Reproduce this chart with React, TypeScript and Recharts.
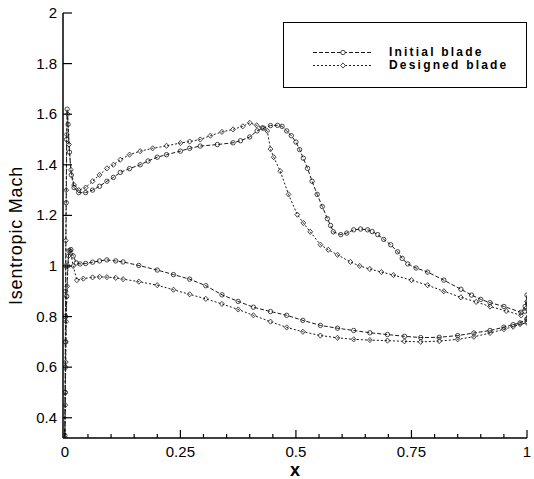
import { LineChart, Line, XAxis, YAxis, Legend, Label } from 'recharts';

// Designed blade: loop from trailing edge along suction side to LE, then pressure side back
const designedX = [
  1.0, 1.0, 0.995, 0.987, 0.955, 0.92, 0.89, 0.857, 0.82, 0.785, 0.75, 0.711, 0.685, 0.66, 0.638,
  0.618, 0.59, 0.57, 0.553, 0.531, 0.516, 0.503, 0.484, 0.466, 0.452, 0.445, 0.438, 0.427, 0.415,
  0.4, 0.385, 0.364, 0.34, 0.315, 0.293, 0.27, 0.25, 0.22, 0.19, 0.163, 0.14, 0.12, 0.105, 0.091,
  0.075, 0.06, 0.045, 0.03, 0.02, 0.013, 0.009, 0.006, 0.004, 0.003, 0.002, 0.0015, 0.001, 0.0005, 0,
  0.001, 0.002, 0.003, 0.005, 0.008, 0.012, 0.018, 0.026, 0.04, 0.06, 0.075, 0.091, 0.11, 0.126,
  0.16, 0.2, 0.235, 0.27, 0.305, 0.34, 0.375, 0.408, 0.445, 0.48, 0.515, 0.553, 0.59, 0.625, 0.66,
  0.698, 0.735, 0.77, 0.81, 0.85, 0.885, 0.92, 0.95, 0.97, 0.985, 1.0,
];
const designedM = [
  0.78, 0.86, 0.82, 0.805, 0.822, 0.84, 0.858, 0.876, 0.9, 0.924, 0.944, 0.964, 0.976, 0.988, 1.0,
  1.016, 1.044, 1.064, 1.084, 1.135, 1.17, 1.203, 1.283, 1.375, 1.43, 1.462, 1.534, 1.546, 1.556,
  1.566, 1.552, 1.54, 1.53, 1.515, 1.5, 1.492, 1.486, 1.475, 1.465, 1.454, 1.44, 1.42, 1.4, 1.386,
  1.36, 1.335, 1.31, 1.3, 1.32, 1.38, 1.48, 1.6, 1.52, 1.3, 1.1, 0.9, 0.7, 0.5, 0.32,
  0.45, 0.62, 0.78, 0.92, 1.04, 1.06, 1.0, 0.944, 0.95, 0.955, 0.957, 0.956, 0.953, 0.948,
  0.938, 0.924, 0.906, 0.888, 0.87, 0.85, 0.828, 0.805, 0.78, 0.757, 0.74, 0.725, 0.716, 0.71, 0.707,
  0.705, 0.702, 0.7, 0.703, 0.71, 0.72, 0.735, 0.75, 0.76, 0.77, 0.775,
];

// Initial blade
const initialX = [
  1.0, 1.0, 0.996, 0.987, 0.95, 0.92, 0.9, 0.88, 0.857, 0.82, 0.785, 0.76, 0.742, 0.73, 0.72, 0.705,
  0.69, 0.677, 0.665, 0.655, 0.64, 0.625, 0.61, 0.597, 0.581, 0.575, 0.568, 0.557, 0.546, 0.535,
  0.525, 0.516, 0.508, 0.5, 0.49, 0.48, 0.47, 0.46, 0.445, 0.43, 0.416, 0.4, 0.38, 0.364, 0.33,
  0.293, 0.27, 0.25, 0.22, 0.2, 0.18, 0.163, 0.14, 0.12, 0.105, 0.091, 0.075, 0.06, 0.045, 0.03,
  0.02, 0.014, 0.01, 0.007, 0.005, 0.004, 0.003, 0.002, 0.0015, 0.001, 0,
  0.001, 0.002, 0.004, 0.006, 0.009, 0.013, 0.018, 0.025, 0.033, 0.045, 0.06, 0.075, 0.091, 0.11,
  0.126, 0.16, 0.2, 0.235, 0.27, 0.305, 0.34, 0.375, 0.408, 0.445, 0.48, 0.515, 0.553, 0.59, 0.625,
  0.66, 0.698, 0.735, 0.77, 0.81, 0.85, 0.885, 0.92, 0.95, 0.97, 0.985, 1.0,
];
const initialM = [
  0.79, 0.885, 0.84, 0.817, 0.84, 0.855, 0.868, 0.885, 0.908, 0.944, 0.976, 0.992, 1.008, 1.03, 1.056,
  1.084, 1.105, 1.124, 1.136, 1.143, 1.146, 1.143, 1.13, 1.124, 1.135, 1.16, 1.187, 1.235, 1.283,
  1.335, 1.386, 1.426, 1.46, 1.49, 1.515, 1.534, 1.552, 1.556, 1.555, 1.545, 1.534, 1.51, 1.495,
  1.487, 1.48, 1.474, 1.465, 1.454, 1.44, 1.43, 1.415, 1.4, 1.385, 1.37, 1.35, 1.335, 1.315, 1.3,
  1.29, 1.29, 1.31, 1.36, 1.45, 1.56, 1.62, 1.5, 1.25, 1.0, 0.8, 0.6, 0.33,
  0.5, 0.7, 0.88, 1.0, 1.06, 1.065, 1.04, 1.012, 1.008, 1.01, 1.015, 1.02, 1.024, 1.02,
  1.016, 1.002, 0.984, 0.966, 0.948, 0.922, 0.886, 0.86, 0.837, 0.82, 0.805, 0.785, 0.765, 0.754,
  0.745, 0.736, 0.729, 0.722, 0.717, 0.718, 0.725, 0.735, 0.745, 0.758, 0.768, 0.775, 0.79,
];

const xTicks = [
  0, 0.05, 0.1, 0.15, 0.2, 0.25, 0.3, 0.35, 0.4, 0.45, 0.5, 0.55, 0.6, 0.65, 0.7, 0.75, 0.8, 0.85,
  0.9, 0.95, 1,
];
const xMajor = [0, 0.25, 0.5, 0.75, 1];
const yTicks = [0.4, 0.6, 0.8, 1, 1.2, 1.4, 1.6, 1.8, 2];
const legendOrder = ['Initial blade', 'Designed blade'];

const designed = designedX.map((x, i) => ({ x, m: designedM[i] }));
const initial = initialX.map((x, i) => ({ x, m: initialM[i] }));

const FONT = '"Liberation Sans", Arial, sans-serif';
const INK = '#1a1a1a';

const XTick = (props: any) => {
  const { x, y, payload } = props;
  const v = payload.value;
  const major = xMajor.some((m) => Math.abs(m - v) < 1e-6);
  return (
    <g>
      <line x1={x} x2={x} y1={y} y2={y - (major ? 8 : 4)} stroke="#000" strokeWidth={1.2} />
      {major && (
        <text x={x} y={y + 19} textAnchor="middle" fontSize={15} fontFamily={FONT} fill="#000">
          {String(v)}
        </text>
      )}
    </g>
  );
};

const YTick = (props: any) => {
  const { x, y, payload } = props;
  return (
    <g>
      <line x1={x} x2={x + 9} y1={y} y2={y} stroke="#000" strokeWidth={1.2} />
      <text x={x - 6} y={y + 5} textAnchor="end" fontSize={15} fontFamily={FONT} fill="#000">
        {String(payload.value)}
      </text>
    </g>
  );
};

const circleDot = (p: any) => (
  <circle key={`c${p.index}`} cx={p.cx} cy={p.cy} r={2.2} fill="#fff" fillOpacity={0} stroke={INK} strokeWidth={0.8} />
);

const diamondDot = (p: any) => (
  <path
    key={`d${p.index}`}
    d={`M${p.cx},${p.cy - 2.6}L${p.cx + 2.4},${p.cy}L${p.cx},${p.cy + 2.6}L${p.cx - 2.4},${p.cy}Z`}
    fill="none"
    stroke={INK}
    strokeWidth={0.8}
  />
);

const renderLegend = (props: any) => {
  const items = [...(props.payload || [])].sort(
    (a: any, b: any) => legendOrder.indexOf(a.value) - legendOrder.indexOf(b.value)
  );
  return (
    <div
      style={{
        width: 244,
        height: 66,
        border: '1.5px solid #000',
        boxSizing: 'border-box',
        position: 'relative',
        background: '#fff',
        fontFamily: FONT,
      }}
    >
      {items.map((e: any, i: number) => (
        <div
          key={e.value}
          style={{ position: 'absolute', left: 0, top: 23 + i * 13, height: 13, display: 'flex', alignItems: 'center' }}
        >
          <svg width={104} height={13} style={{ display: 'block' }}>
            <line
              x1={29}
              x2={87}
              y1={6.5}
              y2={6.5}
              stroke={INK}
              strokeWidth={1}
              strokeDasharray={i === 0 ? '4 2' : '2 2'}
            />
            {i === 0 ? (
              <circle cx={59} cy={6.5} r={2.2} fill="#fff" stroke={INK} strokeWidth={0.8} />
            ) : (
              <path d="M59,3.9L61.4,6.5L59,9.1L56.6,6.5Z" fill="#fff" stroke={INK} strokeWidth={0.8} />
            )}
          </svg>
          <span style={{ fontSize: 12, fontWeight: 'bold', letterSpacing: 2.2, lineHeight: '13px', color: '#000', marginLeft: 1 }}>
            {e.value}
          </span>
        </div>
      ))}
    </div>
  );
};

export default function App() {
  return (
    <div style={{ position: 'absolute', left: 0, top: 0, width: 534, height: 479, background: '#fff' }}>
      <LineChart width={534} height={479} margin={{ top: 13, right: 7, bottom: 16, left: 0 }}>
        <XAxis
          dataKey="x"
          type="number"
          domain={[-0.004, 1]}
          allowDataOverflow
          ticks={xTicks}
          interval={0}
          height={25}
          tickSize={0}
          tickMargin={0}
          tickLine={false}
          tick={<XTick />}
          axisLine={{ stroke: '#000', strokeWidth: 1.5 }}
        >
          <Label
            content={(p: any) => {
              const vb = p.viewBox;
              return (
                <text x={vb.x + vb.width / 2} y={vb.y + 38} textAnchor="middle" fontSize={18} fontWeight="bold" fontFamily={FONT} fill="#000">
                  x
                </text>
              );
            }}
          />
        </XAxis>
        <YAxis
          dataKey="m"
          type="number"
          domain={[0.32, 2]}
          allowDataOverflow
          ticks={yTicks}
          interval={0}
          width={63}
          tickSize={0}
          tickMargin={0}
          tickLine={false}
          tick={<YTick />}
          axisLine={{ stroke: '#000', strokeWidth: 1.5 }}
        >
          <Label
            content={(p: any) => {
              const vb = p.viewBox;
              const cx = vb.x + 22;
              const cy = vb.y + vb.height / 2 + 10;
              return (
                <text
                  x={cx}
                  y={cy}
                  transform={`rotate(-90 ${cx} ${cy})`}
                  textAnchor="middle"
                  fontSize={18}
                  letterSpacing={0.8}
                  fontFamily={FONT}
                  fill="#000"
                >
                  Isentropic Mach
                </text>
              );
            }}
          />
        </YAxis>
        <Legend
          layout="vertical"
          align="center"
          verticalAlign="middle"
          content={renderLegend}
          wrapperStyle={{ top: 22, left: 283, width: 244 }}
        />
        <Line
          name="Initial blade"
          data={initial}
          dataKey="m"
          stroke={INK}
          strokeWidth={1}
          strokeDasharray="4 2"
          dot={circleDot}
          isAnimationActive={false}
        />
        <Line
          name="Designed blade"
          data={designed}
          dataKey="m"
          stroke={INK}
          strokeWidth={1}
          strokeDasharray="2 2"
          dot={diamondDot}
          isAnimationActive={false}
        />
      </LineChart>
    </div>
  );
}
